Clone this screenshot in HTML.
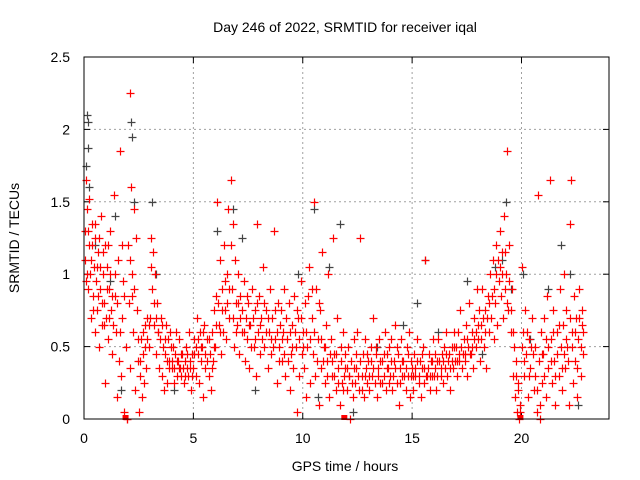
<!DOCTYPE html>
<html><head><meta charset="utf-8">
<style>
body{margin:0;background:#fff;}
svg{display:block;font-family:"Liberation Sans",sans-serif;}
</style></head>
<body>
<svg id="chart" width="640" height="480" viewBox="0 0 640 480">
<rect width="640" height="480" fill="#fff"/>
<text x="345" y="32" font-size="14" text-anchor="middle" fill="#000">Day 246 of 2022, SRMTID for receiver iqal</text>
<text transform="translate(19,238) rotate(-90)" font-size="14" text-anchor="middle" fill="#000">SRMTID / TECUs</text>
<text x="345" y="471" font-size="14" text-anchor="middle" fill="#000">GPS time / hours</text>
<g id="grid"></g>
<g id="ticks"></g>
<g id="black"></g>
<g id="red"></g>
<rect x="84" y="57" width="525" height="362" fill="none" stroke="#000" stroke-width="1"/>
</svg>
<script>
const xTicks=[0,5,10,15,20];
const yTicks=[0,0.5,1,1.5,2,2.5];
const yTickLabels=["0","0.5","1","1.5","2","2.5"];
const zeroTimes=[1.9,11.9,19.95];
const blackPoints=[[0.1,1.75],[0.15,2.1],[0.2,2.05],[0.2,1.87],[0.25,1.6],[0.5,1.2],[1.2,0.95],[1.4,1.4],[1.7,0.2],[2.15,2.05],[2.2,1.95],[2.3,1.5],[3.1,1.5],[3.3,1.0],[4.1,0.2],[6.1,1.3],[6.8,1.45],[7.2,1.25],[7.8,0.2],[9.8,1.0],[10.5,1.45],[10.7,0.15],[11.2,1.05],[11.7,1.35],[12.3,0.05],[13.4,0.5],[14.6,0.65],[15.2,0.8],[15.6,1.1],[16.2,0.6],[17.5,0.95],[18.2,0.45],[18.8,1.05],[19.1,1.1],[19.3,1.5],[19.5,0.9],[20.05,1.0],[20.4,0.55],[21.2,0.9],[21.8,1.2],[22.2,1.0],[22.6,0.1]];
const redPoints=[[0.05,1.3],[0.1,1.65],[0.12,1.0],[0.15,1.45],[0.2,0.9],[0.22,1.2],[0.25,1.52],[0.3,0.7],[0.32,1.1],[0.35,1.35],[0.4,0.85],[0.45,1.05],[0.5,0.6],[0.52,1.25],[0.55,0.95],[0.6,0.75],[0.65,1.15],[0.7,0.5],[0.72,0.9],[0.78,1.4],[0.8,0.65],[0.85,1.0],[0.9,0.8],[0.95,1.2],[0.98,0.25],
[1.0,0.7],[1.05,1.05],[1.1,0.55],[1.15,0.9],[1.2,1.3],[1.25,0.75],[1.3,0.45],[1.35,1.55],[1.4,0.85],[1.45,0.6],[1.5,0.15],[1.55,1.1],[1.6,0.4],[1.65,1.85],[1.7,0.3],[1.75,0.7],[1.8,0.95],[1.85,0.05],[1.9,0.5],[1.95,0.0],[1.98,0.0],
[2.0,1.2],[2.05,0.8],[2.1,0.35],[2.12,2.25],[2.15,1.6],[2.2,1.0],[2.25,0.6],[2.3,1.45],[2.35,0.2],[2.4,0.75],[2.45,0.4],[2.5,0.05],[2.55,0.3],[2.6,0.55],[2.65,0.15],[2.7,0.45],[2.75,0.25],[2.8,0.65],[2.85,0.35],[2.9,0.7],[2.95,0.5],
[3.0,0.7],[3.05,1.25],[3.1,0.9],[3.15,1.15],[3.2,0.65],[3.25,1.0],[3.3,0.45],[3.35,0.8],[3.4,0.6],[3.45,0.35],[3.5,0.7],[3.55,0.3],[3.6,0.5],[3.65,0.2],[3.7,0.45],[3.75,0.65],[3.8,0.25],[3.85,0.55],[3.9,0.4],[3.95,0.6],
[4.0,0.35],[4.05,0.5],[4.1,0.25],[4.15,0.45],[4.2,0.6],[4.25,0.3],[4.3,0.4],[4.35,0.55],[4.4,0.35],[4.45,0.3],[4.5,0.45],[4.55,0.25],[4.6,0.4],[4.65,0.5],[4.7,0.35],[4.75,0.3],[4.8,0.6],[4.85,0.4],[4.9,0.2],[4.95,0.45],
[5.0,0.35],[5.05,0.55],[5.1,0.3],[5.15,0.7],[5.2,0.45],[5.25,0.25],[5.3,0.6],[5.35,0.4],[5.4,0.5],[5.45,0.15],[5.5,0.65],[5.55,0.35],[5.6,0.55],[5.7,0.3],[5.75,0.45],[5.8,0.2],[5.85,0.6],[5.9,0.4],[5.95,0.75],
[6.0,0.5],[6.05,0.85],[6.1,1.5],[6.15,0.65],[6.2,1.1],[6.25,0.45],[6.3,0.9],[6.35,0.6],[6.4,1.2],[6.45,0.75],[6.5,0.55],[6.55,1.0],[6.6,1.45],[6.65,0.7],[6.7,1.65],[6.75,0.9],[6.8,1.35],[6.85,0.5],[6.9,1.1],[6.95,0.8],
[7.0,0.65],[7.05,1.0],[7.1,0.45],[7.15,0.85],[7.2,0.6],[7.3,0.95],[7.35,0.4],[7.4,0.7],[7.45,0.55],[7.5,0.8],[7.55,0.35],[7.6,0.65],[7.7,0.9],[7.75,0.5],[7.8,0.75],[7.85,0.3],[7.9,1.35],[7.95,0.6],
[8.0,0.85],[8.05,0.45],[8.1,0.7],[8.2,1.05],[8.25,0.5],[8.3,0.75],[8.4,0.35],[8.45,0.6],[8.5,0.9],[8.55,0.45],[8.6,0.7],[8.7,1.3],[8.75,0.55],[8.8,0.25],[8.85,0.8],[8.9,0.5],[8.95,0.65],
[9.0,0.75],[9.05,0.4],[9.1,0.6],[9.15,0.9],[9.2,0.3],[9.3,0.55],[9.35,0.8],[9.4,0.2],[9.45,0.45],[9.5,0.65],[9.55,0.35],[9.6,0.85],[9.7,0.5],[9.75,0.05],[9.8,0.7],[9.85,0.3],[9.9,0.95],[9.95,0.45],
[10.0,0.6],[10.05,0.35],[10.1,0.8],[10.15,0.15],[10.2,0.5],[10.3,1.05],[10.35,0.25],[10.4,0.7],[10.45,0.45],[10.5,1.5],[10.55,0.3],[10.6,0.9],[10.7,0.55],[10.75,0.1],[10.8,0.75],[10.85,0.35],[10.9,1.15],[10.95,0.5],
[11.0,0.25],[11.05,0.65],[11.1,0.4],[11.15,1.0],[11.2,0.15],[11.3,0.55],[11.35,0.3],[11.4,1.25],[11.45,0.45],[11.5,0.2],[11.55,0.7],[11.6,0.35],[11.7,0.1],[11.75,0.5],[11.8,0.25],[11.85,0.6],[11.9,0.3],[11.95,0.45],
[12.0,0.2],[12.05,0.5],[12.1,0.3],[12.15,0.0],[12.2,0.4],[12.3,0.15],[12.35,0.55],[12.4,0.25],[12.45,0.35],[12.5,0.6],[12.55,0.2],[12.6,1.25],[12.7,0.3],[12.75,0.45],[12.8,0.15],[12.85,0.55],[12.9,0.35],[12.95,0.25],
[13.0,0.4],[13.05,0.2],[13.1,0.5],[13.15,0.3],[13.2,0.7],[13.3,0.25],[13.35,0.45],[13.4,0.15],[13.45,0.35],[13.5,0.55],[13.55,0.25],[13.6,0.4],[13.7,0.3],[13.75,0.6],[13.8,0.2],[13.85,0.45],[13.9,0.35],[13.95,0.5],
[14.0,0.3],[14.05,0.55],[14.1,0.2],[14.15,0.4],[14.2,0.65],[14.3,0.25],[14.35,0.45],[14.4,0.1],[14.45,0.35],[14.5,0.55],[14.55,0.3],[14.6,0.4],[14.7,0.2],[14.75,0.5],[14.8,0.3],[14.85,0.6],[14.9,0.15],[14.95,0.4],
[15.0,0.35],[15.05,0.2],[15.1,0.45],[15.15,0.3],[15.2,0.55],[15.3,0.25],[15.35,0.4],[15.4,0.15],[15.45,0.35],[15.5,0.5],[15.55,0.25],[15.6,1.1],[15.7,0.3],[15.75,0.45],[15.8,0.2],[15.85,0.4],[15.9,0.3],[15.95,0.55],
[16.0,0.3],[16.05,0.45],[16.1,0.2],[16.15,0.4],[16.2,0.55],[16.3,0.3],[16.35,0.45],[16.4,0.25],[16.45,0.5],[16.5,0.35],[16.55,0.6],[16.6,0.3],[16.7,0.45],[16.75,0.2],[16.8,0.5],[16.85,0.35],[16.9,0.6],[16.95,0.4],
[17.0,0.5],[17.05,0.3],[17.1,0.6],[17.15,0.4],[17.2,0.75],[17.3,0.35],[17.35,0.55],[17.4,0.45],[17.45,0.65],[17.5,0.3],[17.55,0.5],[17.6,0.8],[17.7,0.45],[17.75,0.6],[17.8,0.35],[17.85,0.7],[17.9,0.5],[17.95,0.9],
[18.0,0.55],[18.05,0.75],[18.1,0.4],[18.15,0.65],[18.2,0.9],[18.3,0.5],[18.35,0.75],[18.4,0.35],[18.45,0.85],[18.5,0.6],[18.55,1.0],[18.6,0.7],[18.7,1.1],[18.75,0.55],[18.8,0.8],[18.85,1.2],[18.9,0.65],[18.95,0.95],
[19.0,1.3],[19.05,0.85],[19.1,1.15],[19.15,0.7],[19.2,1.4],[19.25,0.9],[19.3,1.0],[19.35,1.85],[19.4,0.75],[19.45,1.2],[19.5,0.6],[19.55,0.9],[19.6,0.3],[19.65,0.5],[19.7,0.15],[19.75,0.4],[19.8,0.05],[19.85,0.25],[19.9,0.0],[19.95,0.1],
[20.0,1.05],[20.05,0.6],[20.1,0.3],[20.15,0.75],[20.2,0.45],[20.3,0.15],[20.35,0.55],[20.4,0.35],[20.5,0.7],[20.55,0.2],[20.6,0.5],[20.7,0.05],[20.75,1.55],[20.8,0.4],[20.85,0.0],[20.9,0.6],[20.95,0.25],
[21.0,0.45],[21.05,0.7],[21.1,0.15],[21.15,0.85],[21.2,0.35],[21.3,1.65],[21.35,0.55],[21.4,0.25],[21.45,0.75],[21.5,0.4],[21.55,0.1],[21.6,0.6],[21.7,0.3],[21.75,0.9],[21.8,0.5],[21.85,0.2],[21.9,0.65],[21.95,1.0],
[22.0,0.35],[22.05,0.75],[22.1,0.5],[22.15,0.1],[22.2,1.35],[22.25,1.65],[22.3,0.6],[22.35,0.25],[22.4,0.85],[22.45,0.4],[22.5,0.7],[22.55,0.15],[22.6,0.55],[22.65,0.9],[22.7,0.3],[22.75,0.65],[22.8,0.45]];
const redPointsExtra=[[0.03,1.1],[0.08,0.95],[0.18,1.3],[0.28,1.0],[0.38,1.2],[0.43,0.75],[0.48,1.35],[0.58,1.05],[0.63,0.85],[0.68,1.25],[0.75,1.05],[0.83,0.8],[0.88,1.15],[0.93,0.65],[1.03,0.9],[1.08,1.2],[1.13,0.7],[1.18,1.0],[1.28,0.85],[1.33,0.65],[1.43,1.0],[1.53,0.8],[1.63,0.6],[1.73,1.2],[1.83,0.85],[2.08,1.1],[2.18,0.85],[2.28,0.9],[2.38,1.25],[2.48,0.55],[2.58,0.4],[2.68,0.6],[2.78,0.5],[2.88,0.55],[2.98,0.65],
[3.08,1.05],[3.18,0.8],[3.28,0.7],[3.38,0.6],[3.48,0.55],[3.58,0.65],[3.68,0.55],[3.78,0.4],[3.88,0.35],[3.98,0.5],[4.03,0.4],[4.13,0.35],[4.23,0.4],[4.33,0.35],[4.43,0.45],[4.53,0.35],[4.63,0.3],[4.73,0.45],[4.83,0.35],[4.93,0.3],
[5.03,0.45],[5.13,0.5],[5.23,0.55],[5.33,0.5],[5.43,0.6],[5.53,0.45],[5.63,0.4],[5.73,0.55],[5.83,0.35],[5.93,0.5],[6.03,0.65],[6.13,0.8],[6.23,0.6],[6.33,0.75],[6.43,0.95],[6.53,0.8],[6.63,0.9],[6.73,1.2],[6.83,0.7],[6.93,0.6],
[7.03,0.8],[7.13,0.7],[7.23,0.75],[7.33,0.6],[7.43,0.85],[7.53,0.65],[7.63,0.5],[7.73,0.7],[7.83,0.55],[7.93,0.8],[8.03,0.65],[8.13,0.55],[8.23,0.8],[8.33,0.6],[8.43,0.7],[8.53,0.55],[8.63,0.5],[8.73,0.75],[8.83,0.6],[8.93,0.4],
[9.03,0.55],[9.13,0.45],[9.23,0.7],[9.33,0.4],[9.43,0.6],[9.53,0.5],[9.63,0.6],[9.73,0.75],[9.83,0.55],[9.93,0.7],[10.03,0.5],[10.13,0.6],[10.23,0.85],[10.33,0.55],[10.43,0.9],[10.53,0.6],[10.63,0.4],[10.73,0.8],[10.83,0.55],[10.93,0.4],
[11.03,0.5],[11.13,0.3],[11.23,0.45],[11.33,0.4],[11.43,0.3],[11.53,0.45],[11.63,0.25],[11.73,0.4],[11.83,0.2],[11.93,0.35],[12.03,0.35],[12.13,0.3],[12.23,0.25],[12.33,0.35],[12.43,0.45],[12.53,0.3],[12.63,0.4],[12.73,0.2],[12.83,0.3],[12.93,0.45],
[13.03,0.3],[13.13,0.4],[13.23,0.35],[13.33,0.5],[13.43,0.3],[13.53,0.4],[13.63,0.25],[13.73,0.45],[13.83,0.35],[13.93,0.25],[14.03,0.4],[14.13,0.3],[14.23,0.35],[14.33,0.5],[14.43,0.25],[14.53,0.4],[14.63,0.3],[14.73,0.35],[14.83,0.45],[14.93,0.3],
[15.03,0.3],[15.13,0.35],[15.23,0.4],[15.33,0.3],[15.43,0.45],[15.53,0.35],[15.63,0.3],[15.73,0.35],[15.83,0.3],[15.93,0.4],[16.03,0.35],[16.13,0.3],[16.23,0.4],[16.33,0.35],[16.43,0.4],[16.53,0.45],[16.63,0.4],[16.73,0.35],[16.83,0.4],[16.93,0.5],
[17.03,0.4],[17.13,0.45],[17.23,0.5],[17.33,0.45],[17.43,0.4],[17.53,0.55],[17.63,0.45],[17.73,0.5],[17.83,0.55],[17.93,0.6],[18.03,0.65],[18.13,0.55],[18.23,0.7],[18.33,0.6],[18.43,0.7],[18.53,0.8],[18.63,0.85],[18.73,0.9],[18.83,1.0],[18.93,1.1],
[19.03,1.05],[19.13,1.0],[19.23,1.15],[19.33,0.8],[19.43,0.95],[19.53,0.75],[19.63,0.6],[19.73,0.3],[19.83,0.2],[19.93,0.05],[20.03,0.5],[20.13,0.4],[20.23,0.6],[20.33,0.3],[20.43,0.5],[20.53,0.45],[20.63,0.3],[20.73,0.2],[20.83,0.1],[20.93,0.45],
[21.03,0.3],[21.13,0.55],[21.23,0.5],[21.33,0.4],[21.43,0.6],[21.53,0.3],[21.63,0.45],[21.73,0.65],[21.83,0.35],[21.93,0.45],[22.03,0.55],[22.13,0.4],[22.23,0.7],[22.33,0.5],[22.43,0.6],[22.53,0.35],[22.63,0.7],[22.73,0.5],[22.78,0.75],[22.83,0.6]];

const NS="http://www.w3.org/2000/svg";
const X0=84,X1=609,Y0=419,Y1=57,XMAX=24,YMAX=2.5;
function xs(t){return X0+(t/XMAX)*(X1-X0);}
function ys(v){return Y0-(v/YMAX)*(Y0-Y1);}
function mk(tag,attrs,parent){const e=document.createElementNS(NS,tag);for(const k in attrs)e.setAttribute(k,attrs[k]);parent.appendChild(e);return e;}
const grid=document.getElementById('grid'),ticks=document.getElementById('ticks');
xTicks.forEach(t=>{
  const x=xs(t);
  if(t>0){const g=mk('line',{x1:x,x2:x,y1:Y1,y2:Y0,stroke:'#a0a0a0','stroke-dasharray':'2,3'},grid);
  
  }
  mk('line',{x1:x,x2:x,y1:Y0,y2:Y0-6,stroke:'#000'},ticks);
  mk('line',{x1:x,x2:x,y1:Y1,y2:Y1+6,stroke:'#000'},ticks);
  const lb=mk('text',{x:x,y:443,'font-size':14,'text-anchor':'middle',fill:'#000'},ticks);
  lb.textContent=String(t);
  
  
});
yTicks.forEach((v,i)=>{
  const y=ys(v);
  if(v>0&&v<YMAX){const g=mk('line',{x1:X0,x2:X1,y1:y,y2:y,stroke:'#a0a0a0','stroke-dasharray':'2,3'},grid);
  
  }
  mk('line',{x1:X0,x2:X0+6,y1:y,y2:y,stroke:'#000'},ticks);
  mk('line',{x1:X1,x2:X1-6,y1:y,y2:y,stroke:'#000'},ticks);
  const lb=mk('text',{x:70,y:y+5,'font-size':14,'text-anchor':'end',fill:'#000'},ticks);
  lb.textContent=yTickLabels[i];
  
  
});
function plus(g,t,v,color,name){
  const x=Math.round(xs(t))+0.5,y=Math.round(ys(v))+0.5;
  const p=mk('path',{d:`M${x-4},${y}H${x+4}M${x},${y-4}V${y+4}`,stroke:color,'stroke-width':1.2,fill:'none'},g);
  
  
}
const bg=document.getElementById('black'),rg=document.getElementById('red');
blackPoints.forEach(p=>plus(bg,p[0],p[1],'#444','black-point'));
redPoints.forEach(p=>plus(rg,p[0],p[1],'#ff0000','red-point'));
redPointsExtra.forEach(p=>plus(rg,p[0],p[1],'#ff0000','red-point'));
zeroTimes.forEach(t=>{
  const r=mk('rect',{x:xs(t)-3,y:Y0-4,width:6,height:5,fill:'#ff0000'},rg);
  
  
});
</script>
</body></html>
